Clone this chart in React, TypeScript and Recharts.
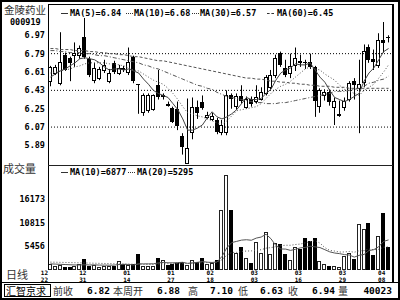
import React from 'react'
import { ComposedChart, Bar, Line, XAxis, YAxis, ReferenceLine } from 'recharts'

// daily candles, oldest first
const opens = [6.52, 6.60, 6.50, 6.78, 6.75, 6.78, 6.78, 6.95, 6.74, 6.53, 6.55, 6.63, 6.52, 6.70, 6.60, 6.65, 6.61, 6.76, 6.49, 6.22, 6.24, 6.25, 6.48, 6.37, 6.30, 6.26, 6.25, 5.98, 5.72, 6.02, 6.27, 6.32, 6.17, 6.15, 6.14, 6.02, 6.02, 6.38, 6.28, 6.37, 6.27, 6.35, 6.33, 6.35, 6.40, 6.46, 6.58, 6.80, 6.65, 6.60, 6.68, 6.72, 6.71, 6.71, 6.66, 6.28, 6.38, 6.41, 6.27, 6.19, 6.27, 6.35, 6.52, 6.45, 6.51, 6.86, 6.74, 6.68, 6.92, 6.95]
const highs = [6.67, 6.68, 7.00, 6.80, 6.76, 6.90, 6.87, 7.14, 6.76, 6.70, 6.66, 6.73, 6.64, 6.72, 6.68, 6.67, 6.85, 6.77, 6.49, 6.40, 6.40, 6.39, 6.63, 6.40, 6.32, 6.27, 6.32, 6.01, 6.35, 6.36, 6.33, 6.38, 6.22, 6.21, 6.16, 6.14, 6.43, 6.40, 6.40, 6.48, 6.37, 6.37, 6.48, 6.46, 6.58, 6.63, 6.78, 6.81, 6.73, 6.79, 6.85, 6.78, 6.73, 6.79, 6.67, 6.45, 6.44, 6.44, 6.36, 6.33, 6.36, 6.52, 6.55, 6.73, 6.88, 6.88, 6.83, 6.99, 7.10, 6.97]
const lows = [6.47, 6.58, 6.48, 6.62, 6.52, 6.66, 6.74, 6.74, 6.56, 6.50, 6.53, 6.60, 6.50, 6.59, 6.58, 6.61, 6.58, 6.50, 6.20, 6.18, 6.21, 6.23, 6.34, 6.34, 6.27, 6.11, 6.04, 5.80, 5.71, 5.95, 6.15, 6.24, 6.15, 6.13, 6.00, 5.99, 5.99, 6.25, 6.24, 6.30, 6.25, 6.27, 6.30, 6.33, 6.38, 6.44, 6.55, 6.66, 6.56, 6.55, 6.62, 6.66, 6.64, 6.64, 6.17, 6.21, 6.33, 6.28, 6.09, 6.17, 6.23, 6.32, 6.34, 6.01, 6.46, 6.70, 6.63, 6.65, 6.80, 6.90]
const closes = [6.66, 6.66, 6.71, 6.63, 6.70, 6.80, 6.85, 6.76, 6.58, 6.65, 6.64, 6.68, 6.60, 6.61, 6.65, 6.63, 6.71, 6.52, 6.48, 6.38, 6.38, 6.38, 6.36, 6.38, 6.28, 6.12, 6.08, 5.87, 5.86, 6.27, 6.21, 6.26, 6.19, 6.18, 6.02, 6.09, 6.38, 6.35, 6.37, 6.33, 6.35, 6.30, 6.36, 6.41, 6.56, 6.58, 6.75, 6.68, 6.58, 6.67, 6.75, 6.70, 6.70, 6.66, 6.33, 6.43, 6.41, 6.32, 6.33, 6.20, 6.33, 6.50, 6.48, 6.49, 6.82, 6.73, 6.71, 6.92, 6.89, 6.94]
const volumes = [1300, 900, 1100, 800, 700, 1000, 1300, 2600, 900, 1100, 800, 900, 900, 1000, 2000, 1400, 1100, 1300, 3600, 1000, 900, 1000, 2800, 2200, 1200, 1300, 1700, 1900, 1200, 2300, 1900, 2800, 1400, 1500, 2300, 13800, 21700, 13800, 3900, 5200, 2800, 1600, 6300, 3900, 8700, 3600, 6200, 5900, 3600, 2200, 5300, 4900, 7300, 6600, 7300, 2000, 1300, 1000, 900, 800, 3100, 3900, 2600, 10600, 9400, 10800, 3400, 7800, 13100, 5200]

// moving averages as drawn
const ma5 = [6.56, 6.59, 6.62, 6.64, 6.67, 6.70, 6.74, 6.75, 6.74, 6.73, 6.70, 6.66, 6.63, 6.64, 6.64, 6.63, 6.64, 6.62, 6.60, 6.54, 6.49, 6.43, 6.40, 6.38, 6.36, 6.30, 6.24, 6.15, 6.04, 6.04, 6.06, 6.09, 6.16, 6.22, 6.17, 6.15, 6.17, 6.20, 6.24, 6.30, 6.36, 6.34, 6.34, 6.35, 6.40, 6.44, 6.53, 6.60, 6.63, 6.65, 6.69, 6.68, 6.68, 6.70, 6.63, 6.56, 6.51, 6.43, 6.36, 6.34, 6.32, 6.34, 6.37, 6.40, 6.52, 6.60, 6.65, 6.73, 6.81, 6.84]
const ma10 = [6.60, 6.61, 6.62, 6.63, 6.64, 6.66, 6.67, 6.69, 6.70, 6.70, 6.70, 6.70, 6.69, 6.69, 6.68, 6.67, 6.65, 6.63, 6.62, 6.59, 6.56, 6.53, 6.51, 6.49, 6.45, 6.40, 6.34, 6.27, 6.21, 6.20, 6.18, 6.17, 6.15, 6.13, 6.11, 6.10, 6.13, 6.18, 6.23, 6.24, 6.25, 6.26, 6.27, 6.30, 6.35, 6.40, 6.44, 6.47, 6.49, 6.52, 6.56, 6.60, 6.64, 6.66, 6.64, 6.63, 6.59, 6.56, 6.53, 6.48, 6.44, 6.42, 6.40, 6.38, 6.43, 6.46, 6.49, 6.55, 6.61, 6.68]
const ma30 = [6.82, 6.82, 6.81, 6.81, 6.80, 6.80, 6.80, 6.79, 6.79, 6.78, 6.77, 6.77, 6.76, 6.75, 6.74, 6.73, 6.72, 6.71, 6.70, 6.68, 6.67, 6.65, 6.64, 6.62, 6.60, 6.58, 6.56, 6.54, 6.52, 6.50, 6.48, 6.47, 6.45, 6.44, 6.41, 6.39, 6.37, 6.36, 6.35, 6.34, 6.33, 6.32, 6.31, 6.31, 6.30, 6.30, 6.30, 6.31, 6.31, 6.32, 6.33, 6.34, 6.35, 6.36, 6.37, 6.38, 6.39, 6.40, 6.42, 6.42, 6.42, 6.43, 6.44, 6.45, 6.47, 6.50, 6.51, 6.53, 6.54, 6.57]
const ma60 = [6.84, 6.84, 6.83, 6.83, 6.83, 6.82, 6.82, 6.82, 6.81, 6.81, 6.80, 6.80, 6.79, 6.79, 6.78, 6.78, 6.77, 6.76, 6.76, 6.75, 6.74, 6.73, 6.72, 6.72, 6.71, 6.70, 6.69, 6.68, 6.67, 6.66, 6.65, 6.64, 6.63, 6.62, 6.61, 6.60, 6.59, 6.58, 6.57, 6.56, 6.55, 6.55, 6.54, 6.54, 6.53, 6.52, 6.52, 6.51, 6.51, 6.50, 6.50, 6.49, 6.49, 6.48, 6.48, 6.47, 6.47, 6.47, 6.46, 6.46, 6.46, 6.45, 6.45, 6.45, 6.45, 6.45, 6.45, 6.45, 6.45, 6.45]
const volMa10 = [1400, 1350, 1300, 1250, 1200, 1150, 1150, 1200, 1150, 1170, 1120, 1120, 1100, 1120, 1250, 1290, 1270, 1140, 1410, 1400, 1410, 1420, 1610, 1730, 1650, 1640, 1700, 1760, 1520, 1650, 1750, 1930, 1790, 1720, 1830, 3080, 5080, 6270, 6540, 6830, 6920, 6800, 7290, 7530, 8170, 7150, 5600, 4810, 4780, 4480, 4730, 5060, 5160, 5430, 5290, 5130, 4640, 4150, 3880, 3740, 3520, 3420, 2950, 3350, 3560, 4440, 4650, 5330, 6550, 6877]
const volMa20 = [1800, 1780, 1750, 1720, 1700, 1670, 1640, 1610, 1580, 1550, 1520, 1490, 1460, 1430, 1400, 1380, 1350, 1330, 1300, 1285, 1265, 1270, 1355, 1425, 1450, 1465, 1485, 1450, 1465, 1525, 1580, 1675, 1700, 1725, 1740, 2360, 3390, 4015, 4030, 4240, 4335, 4365, 4540, 4625, 5000, 5115, 5340, 5540, 5660, 5655, 5825, 5930, 6225, 6480, 6730, 6140, 5120, 4480, 4330, 4110, 4125, 4240, 4055, 4390, 4425, 4785, 4645, 4740, 5215, 5295]

const dateTicks = [0, 7, 16, 25, 33, 42, 51, 60, 68]
const dateLabels = ['12/22', '12/31', '01/14', '01/27', '02/18', '03/03', '03/16', '03/29', '04/08']
const priceTicks = [5.89, 6.07, 6.25, 6.43, 6.61, 6.79, 6.97]
const priceGrid = [6.07, 6.43, 6.79]
const volTicks = [5456, 10815, 16173]

const rows = opens.map((o, i) => ({
  i,
  open: o,
  high: highs[i],
  low: lows[i],
  close: closes[i],
  ma5: ma5[i],
  ma10: ma10[i],
  ma30: ma30[i],
  ma60: ma60[i],
  vol: volumes[i],
  vma10: volMa10[i],
  vma20: volMa20[i],
}))

const MONO = '"DejaVu Sans Mono", monospace'
const CJK = '"Noto Sans CJK SC", sans-serif'
const tickStyle = { fontSize: 8.5, fontFamily: MONO, fontWeight: 'bold', fill: '#000' }

function Candle(props: any) {
  const { x, y, width, height, payload } = props
  if (x == null || y == null) return null
  const { open, close, high, low } = payload
  const top = height >= 0 ? y : y + height
  const h = Math.abs(height)
  const unit = high > low ? h / (high - low) : 0
  const py = (v: number) => top + (high - v) * unit
  const c = Math.floor(x + width / 2)
  const up = close > open
  const bTop = Math.round(py(Math.max(open, close)))
  const bBot = Math.round(py(Math.min(open, close)))
  const bh = Math.max(bBot - bTop, 1)
  return (
    <g>
      <line x1={c + 0.5} x2={c + 0.5} y1={top} y2={top + h} stroke="#000" />
      {up ? (
        <rect x={c - 1.5} y={bTop + 0.5} width={3} height={bh} fill="#fff" stroke="#000" />
      ) : (
        <rect x={c - 2} y={bTop} width={4} height={bh} fill="#000" />
      )}
    </g>
  )
}

function VolBar(props: any) {
  const { x, y, width, height, payload } = props
  if (x == null || y == null) return null
  const c = Math.floor(x + width / 2)
  const top = Math.round(y)
  const bottom = Math.round(y + height)
  const up = payload.close > payload.open
  if (up) {
    return <rect x={c - 1.5} y={top + 0.5} width={3} height={Math.max(bottom - top - 1, 1)} fill="#fff" stroke="#222" />
  }
  return <rect x={c - 2} y={top} width={4} height={bottom - top} fill="#000" />
}

function DateTick(props: any) {
  const { x, y, payload } = props
  const label = dateLabels[dateTicks.indexOf(payload.value)] || ''
  const [m, d] = label.split('/')
  const dx = payload.value === 0 ? -6 : -2
  const st = { fontSize: 6, fontFamily: MONO, fontWeight: 'bold', fill: '#000' } as any
  return (
    <g transform={`translate(${x + dx},${y})`}>
      <text textAnchor="middle" y={4.5} style={st}>{m}</text>
      <text textAnchor="middle" y={11.5} style={st}>{d}</text>
    </g>
  )
}

function Txt(p: { x: number; y: number; size?: number; cjk?: boolean; color?: string; right?: boolean; children: React.ReactNode }) {
  const size = p.size || 8.5
  const style: React.CSSProperties = {
    position: 'absolute',
    top: p.y - (size + 2) / 2,
    fontSize: size,
    lineHeight: `${size + 2}px`,
    fontFamily: p.cjk ? CJK : MONO,
    fontWeight: p.cjk ? 'normal' : 'bold',
    color: p.color || (p.cjk ? '#333' : '#000'),
    whiteSpace: 'pre',
  }
  if (p.right) style.right = 400 - p.x
  else style.left = p.x
  return <div style={style}>{p.children}</div>
}

function Mark({ x, y, kind }: { x: number; y: number; kind: string }) {
  return (
    <div
      style={{
        position: 'absolute',
        left: x,
        top: y,
        width: 7,
        height: 0,
        borderTop: `1px ${kind} #333`,
      }}
    />
  )
}

export default function App() {
  return (
    <div style={{ position: 'absolute', left: 0, top: 0, width: 400, height: 300, background: '#fff', overflow: 'hidden' }}>
      <div style={{ position: 'absolute', left: 0, top: 5 }}>
        <ComposedChart width={391} height={160} data={rows} margin={{ top: 0, right: 0, bottom: 0, left: 0 }}>
          <XAxis dataKey="i" hide />
          <YAxis
            domain={[5.698, 7.267]}
            allowDataOverflow
            ticks={priceTicks}
            width={48}
            axisLine={false}
            tickLine={false}
            tickSize={0}
            tickMargin={3}
            tick={tickStyle}
            tickFormatter={(v: number) => v.toFixed(2)}
          />
          {priceGrid.map((g) => (
            <ReferenceLine key={g} y={g} stroke="#000" strokeDasharray="1 2" />
          ))}
          <Bar dataKey={(d: any) => [d.low, d.high]} shape={<Candle />} isAnimationActive={false} />
          <Line dataKey="ma60" stroke="#555" strokeDasharray="3 2" dot={false} isAnimationActive={false} />
          <Line dataKey="ma30" stroke="#555" strokeDasharray="4 2 1 2" dot={false} isAnimationActive={false} />
          <Line dataKey="ma10" stroke="#555" strokeDasharray="1 2" dot={false} isAnimationActive={false} />
          <Line dataKey="ma5" stroke="#444" dot={false} isAnimationActive={false} />
        </ComposedChart>
      </div>

      <div style={{ position: 'absolute', left: 0, top: 165 }}>
        <ComposedChart width={391} height={125} data={rows} margin={{ top: 0, right: 0, bottom: 0, left: 0 }}>
          <XAxis
            dataKey="i"
            ticks={dateTicks}
            interval={0}
            height={20}
            axisLine={false}
            tickLine={false}
            tickSize={0}
            tickMargin={0}
            tick={<DateTick />}
          />
          <YAxis
            domain={[0, 24000]}
            allowDataOverflow
            ticks={volTicks}
            width={48}
            axisLine={false}
            tickLine={false}
            tickSize={0}
            tickMargin={3}
            tick={tickStyle}
          />
          <Bar dataKey="vol" shape={<VolBar />} isAnimationActive={false} />
          <Line dataKey="vma20" stroke="#555" strokeDasharray="1 2" dot={false} isAnimationActive={false} />
          <Line dataKey="vma10" stroke="#555" dot={false} isAnimationActive={false} />
        </ComposedChart>
      </div>

      {/* frame */}
      <svg width={400} height={300} style={{ position: 'absolute', left: 0, top: 0, pointerEvents: 'none' }}>
        <rect x={1} y={1} width={398} height={298} fill="none" stroke="#000" strokeWidth={2} />
        <line x1={48} x2={394} y1={4.5} y2={4.5} stroke="#000" />
        <line x1={48.5} x2={48.5} y1={4} y2={270} stroke="#000" />
        <line x1={393} x2={393} y1={4} y2={283} stroke="#000" strokeWidth={2} />
        <line x1={48} x2={393} y1={165.5} y2={165.5} stroke="#222" />
        <line x1={0} x2={400} y1={282.5} y2={282.5} stroke="#000" />
        <rect x={4.5} y={284.5} width={46} height={12} fill="none" stroke="#000" />
      </svg>

      <Txt x={4} y={10} size={10.5} cjk>金陵药业</Txt>
      <Txt x={10} y={22}>000919</Txt>

      <Mark x={61} y={13} kind="solid" />
      <Txt x={70} y={13}>MA(5)=6.84</Txt>
      <Mark x={126} y={13} kind="dotted" />
      <Txt x={134} y={13}>MA(10)=6.68</Txt>
      <Mark x={192} y={13} kind="dotted" />
      <Txt x={200} y={13}>MA(30)=6.57</Txt>
      <Mark x={267} y={13} kind="dashed" />
      <Txt x={277} y={13}>MA(60)=6.45</Txt>

      <Txt x={3} y={168} size={11} cjk>成交量</Txt>
      <Mark x={61} y={172} kind="solid" />
      <Txt x={70} y={172}>MA(10)=6877</Txt>
      <Mark x={128} y={172} kind="dotted" />
      <Txt x={137} y={172}>MA(20)=5295</Txt>

      <Txt x={6} y={274} size={11} cjk>日线</Txt>

      <Txt x={6} y={290.5} size={10} cjk color="#000">汇智京求</Txt>
      <Txt x={53} y={290.5} size={10} cjk>前收</Txt>
      <Txt x={87} y={290.5} size={9.5}>6.82</Txt>
      <Txt x={113} y={290.5} size={10} cjk>本周开</Txt>
      <Txt x={157} y={290.5} size={9.5}>6.88</Txt>
      <Txt x={188} y={290.5} size={10} cjk>高</Txt>
      <Txt x={210} y={290.5} size={9.5}>7.10</Txt>
      <Txt x={238} y={290.5} size={10} cjk>低</Txt>
      <Txt x={260} y={290.5} size={9.5}>6.63</Txt>
      <Txt x={288} y={290.5} size={10} cjk>收</Txt>
      <Txt x={312} y={290.5} size={9.5}>6.94</Txt>
      <Txt x={338} y={290.5} size={10} cjk>量</Txt>
      <Txt x={392} y={290.5} size={9.5} right>40023</Txt>
    </div>
  )
}
